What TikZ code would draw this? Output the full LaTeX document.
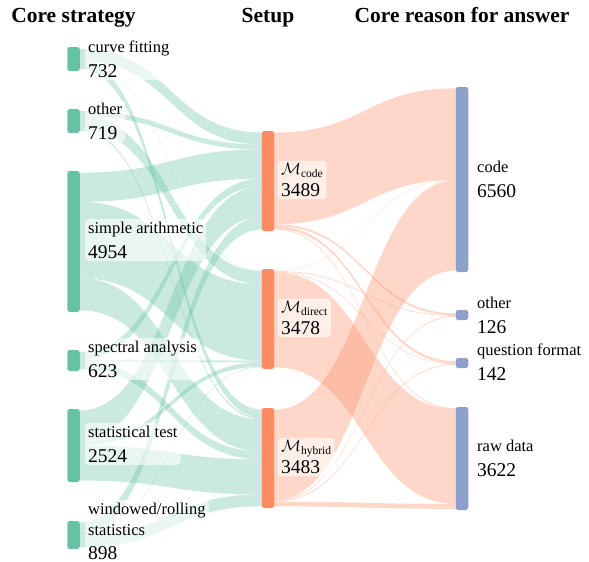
\RequirePackage{fix-cm}
\documentclass[tikz,border=0pt]{standalone}
\usepackage{fontspec}
\setmainfont{Liberation Serif}
\usetikzlibrary{calc}
\definecolor{cgreen}{HTML}{66C2A5}
\definecolor{corange}{HTML}{FC8D62}
\definecolor{cblue}{HTML}{8DA0CB}
\newcommand\lbltxt{\fontsize{16.5}{21}\selectfont}
\newcommand\numtxt{\fontsize{19.5}{24}\selectfont}
% band from node #1 (east side, top offset #2 from centre) to node #3 (west side, top offset #4), thickness #5, style #6
\newcommand\band[6]{%
  \path[#6] let \p1=($(#1.east)+(0,#2)$), \p2=($(#3.west)+(0,#4)$) in
    (\x1,\y1) .. controls ({0.5*\x1+0.5*\x2},\y1) and ({0.5*\x1+0.5*\x2},\y2) .. (\x2,\y2)
    -- (\x2,{\y2-#5pt}) .. controls ({0.5*\x1+0.5*\x2},{\y2-#5pt}) and ({0.5*\x1+0.5*\x2},{\y1-#5pt}) .. (\x1,{\y1-#5pt}) -- cycle;}
\tikzset{
  bar/.style={rectangle, rounded corners=2.5pt, inner sep=0pt, outer sep=0pt, minimum width=12.5pt},
  gbar/.style={bar, fill=cgreen},
  obar/.style={bar, fill=corange},
  bbar/.style={bar, fill=cblue},
  gband/.style={fill=cgreen, fill opacity=0.35},
  pband/.style={fill=corange, fill opacity=0.35},
  lbl/.style={anchor=west, align=left, font=\lbltxt, fill=white, fill opacity=0.6, text opacity=1,
              rounded corners=3pt, inner xsep=3pt, inner ysep=2.5pt},
  ttl/.style={anchor=base, font=\fontsize{21.5}{24}\selectfont\bfseries}
}
\begin{document}
\begin{tikzpicture}[x=1pt, y=-1pt]
\useasboundingbox (0,0) rectangle (589,562);
% titles
\node[ttl] (t1) at (73.5,23) {Core strategy};
\node[ttl] (t2) at (268,23) {Setup};
\node[ttl] (t3) at (462,23) {Core reason for answer};
% left column
\node[gbar, minimum height=24pt] (cf) at (73.5,59) {};
\node[gbar, minimum height=24pt] (ot) at (73.5,121) {};
\node[gbar, minimum height=141pt] (sa) at (73.5,241.5) {};
\node[gbar, minimum height=21pt] (sp) at (73.5,360.5) {};
\node[gbar, minimum height=73pt] (st) at (73.5,445.5) {};
\node[gbar, minimum height=28pt] (wr) at (73.5,535) {};
% middle column
\node[obar, minimum height=100pt] (mc) at (268,181) {};
\node[obar, minimum height=100pt] (md) at (268,319) {};
\node[obar, minimum height=100pt] (mh) at (268,458) {};
% right column
\node[bbar, minimum height=185pt] (ac) at (462,179.5) {};
\node[bbar, minimum height=10pt] (ao) at (462,315) {};
\node[bbar, minimum height=10pt] (aq) at (462,363) {};
\node[bbar, minimum height=103pt] (ar) at (462,458.5) {};
% strategy -> setup
\band{cf}{-10.17}{mc}{-48.46}{11.94}{gband}
\band{cf}{1.77}{md}{-48.31}{0.28}{gband}
\band{cf}{2.05}{mh}{-48.38}{8.11}{gband}
\band{ot}{-9.99}{mc}{-36.52}{5.00}{gband}
\band{ot}{-4.99}{md}{-48.03}{13.33}{gband}
\band{ot}{8.34}{mh}{-40.27}{1.64}{gband}
\band{sa}{-68.81}{mc}{-31.52}{29.17}{gband}
\band{sa}{-39.64}{md}{-34.70}{76.39}{gband}
\band{sa}{36.75}{mh}{-38.63}{32.06}{gband}
\band{sp}{-8.65}{mc}{-2.35}{7.78}{gband}
\band{sp}{-0.87}{md}{41.69}{1.67}{gband}
\band{sp}{0.80}{mh}{-6.57}{7.86}{gband}
\band{st}{-35.06}{mc}{5.43}{30.56}{gband}
\band{st}{-4.50}{md}{43.36}{4.44}{gband}
\band{st}{-0.06}{mh}{1.29}{35.11}{gband}
\band{wr}{-12.47}{mc}{35.99}{12.47}{gband}
\band{wr}{0.00}{md}{47.80}{0.50}{gband}
\band{wr}{0.50}{mh}{36.40}{11.97}{gband}
% setup -> reason
\band{mc}{-48.46}{ac}{-91.11}{91.67}{pband}
\band{mc}{43.21}{ao}{-1.75}{1.94}{pband}
\band{mc}{45.15}{aq}{-1.97}{2.50}{pband}
\band{mc}{47.65}{ar}{-50.31}{0.81}{pband}
\band{md}{-48.31}{ac}{0.56}{0.28}{pband}
\band{md}{-48.03}{ao}{0.19}{0.72}{pband}
\band{md}{-47.31}{aq}{0.53}{0.61}{pband}
\band{md}{-46.70}{ar}{-49.50}{95.00}{pband}
\band{mh}{-48.38}{ac}{0.84}{90.28}{pband}
\band{mh}{41.90}{ao}{0.91}{0.83}{pband}
\band{mh}{42.73}{aq}{1.14}{0.83}{pband}
\band{mh}{43.56}{ar}{45.50}{4.81}{pband}
% labels
\node[lbl] (lcf) at (85,59) {curve fitting\\[4pt]{\numtxt 732}};
\node[lbl] (lot) at (85,121) {other\\[4pt]{\numtxt 719}};
\node[lbl] (lsa) at (85,240) {simple arithmetic\\[4pt]{\numtxt 4954}};
\node[lbl] (lsp) at (85,359) {spectral analysis\\[4pt]{\numtxt 623}};
\node[lbl] (lst) at (85,444) {statistical test\\[4pt]{\numtxt 2524}};
\node[lbl] (lwr) at (85,531) {windowed/rolling\\statistics\\[3pt]{\numtxt 898}};
\node[lbl] (lmc) at (278,180) {$\mathcal{M}_{\mathrm{code}}$\\[1pt]{\numtxt 3489}};
\node[lbl] (lmd) at (278,318) {$\mathcal{M}_{\mathrm{direct}}$\\[1pt]{\numtxt 3478}};
\node[lbl] (lmh) at (278,457) {$\mathcal{M}_{\mathrm{hybrid}}$\\[1pt]{\numtxt 3483}};
\node[lbl] (lac) at (474,179) {code\\[4pt]{\numtxt 6560}};
\node[lbl] (lao) at (474,315) {other\\[4pt]{\numtxt 126}};
\node[lbl] (laq) at (474,362) {question format\\[4pt]{\numtxt 142}};
\node[lbl] (lar) at (474,458) {raw data\\[4pt]{\numtxt 3622}};
\end{tikzpicture}
\end{document}
